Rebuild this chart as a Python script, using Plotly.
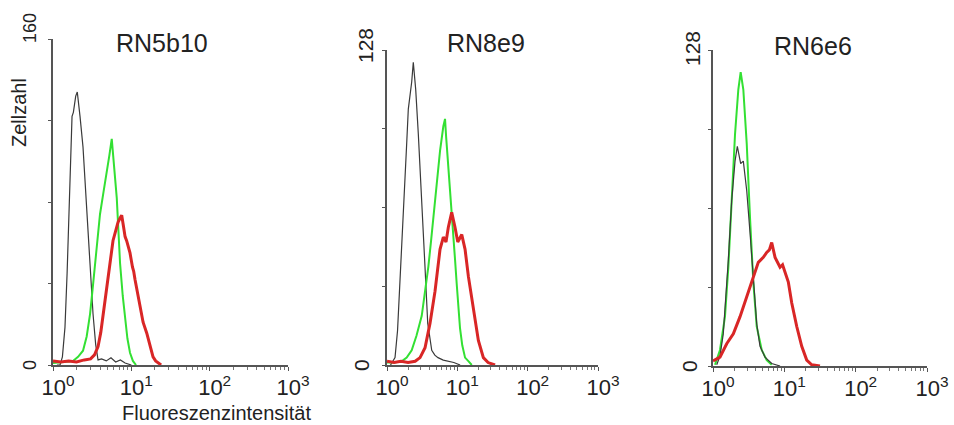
import numpy as np
import plotly.graph_objects as go

# ---------------------------------------------------------------------------
# Flow cytometry histograms: event counts vs. log10 fluorescence intensity
# ---------------------------------------------------------------------------
titles = ["RN5b10", "RN8e9", "RN6e6"]
y_max = [160, 128, 128]
decade_vals = [1, 10, 100, 1000]
decade_text = ["10<sup>0</sup>", "10<sup>1</sup>", "10<sup>2</sup>", "10<sup>3</sup>"]

# RN5b10
p1_black_log = [0.05, 0.09, 0.12, 0.153, 0.18, 0.204, 0.225, 0.243, 0.26, 0.29, 0.31, 0.33, 0.345,
                0.383, 0.415, 0.447, 0.48, 0.511, 0.545, 0.575, 0.62, 0.68, 0.74, 0.8, 0.86, 0.92, 1.0]
p1_black_cnt = [0, 0, 4, 18.6, 45, 74.5, 100, 122, 124, 132, 134, 128, 122,
                107, 87, 66, 45, 25, 10, 2.5, 3, 2, 3.5, 1.5, 2.5, 1, 0]
p1_green_log = [0.0, 0.15, 0.255, 0.32, 0.383, 0.43, 0.473, 0.505, 0.536, 0.57, 0.6, 0.645, 0.686,
                0.72, 0.75, 0.78, 0.814, 0.835, 0.856, 0.89, 0.92, 0.95, 0.983, 1.02, 1.06]
p1_green_cnt = [1, 1.5, 2, 4, 7, 14, 25, 37, 50, 62, 74, 85, 94,
                103, 111, 98, 82, 66, 50, 34, 22, 13, 6, 2, 0]
p1_red_log = [0.0, 0.1, 0.2, 0.3, 0.4, 0.48, 0.53, 0.575, 0.61, 0.639, 0.67, 0.702, 0.735, 0.766,
              0.8, 0.83, 0.855, 0.877, 0.9, 0.92, 0.94, 0.96, 0.983, 1.015, 1.03, 1.047, 1.08,
              1.111, 1.13, 1.15, 1.197, 1.24, 1.277, 1.31, 1.341, 1.38]
p1_red_cnt = [2, 1.5, 2, 1.5, 2.5, 3, 5, 9, 16, 25, 33, 42, 52, 61,
              66, 70, 72, 73.5, 68, 63, 61, 58, 55, 48, 46, 42, 35,
              28, 25, 21, 15.6, 9, 4, 2, 1, 0]

# RN8e9
p2_black_log = [0.05, 0.114, 0.15, 0.185, 0.22, 0.256, 0.28, 0.303, 0.33, 0.351, 0.374, 0.39, 0.408,
                0.445, 0.47, 0.494, 0.54, 0.579, 0.636, 0.68, 0.725, 0.8, 0.87, 0.95, 1.04]
p2_black_cnt = [0, 3, 14, 33, 54, 74, 90, 104, 110, 115, 123, 118, 112,
                94, 81, 67, 40, 17, 6, 4, 3, 2, 1.5, 1, 0]
p2_green_log = [0.0, 0.1, 0.209, 0.28, 0.351, 0.42, 0.494, 0.54, 0.588, 0.625, 0.659, 0.707, 0.754,
                0.801, 0.825, 0.84, 0.853, 0.875, 0.896, 0.92, 0.943, 0.967, 0.991, 1.015, 1.038,
                1.07, 1.11, 1.16, 1.205]
p2_green_cnt = [1, 1, 1.5, 3, 6, 12, 20, 29, 40, 50, 60, 74, 87,
                97, 100, 93, 88, 82, 74, 63, 54, 43, 33, 23, 15,
                8, 3, 1.5, 0]
p2_red_log = [0.0, 0.1, 0.2, 0.3, 0.4, 0.47, 0.541, 0.612, 0.683, 0.754, 0.801, 0.839, 0.872, 0.92,
              0.967, 1.006, 1.063, 1.11, 1.157, 1.19, 1.228, 1.26, 1.299, 1.37, 1.437, 1.536]
p2_red_cnt = [1.5, 1, 1.5, 1, 1.5, 3, 7, 17, 30, 47, 52, 50, 56, 62,
              56, 50, 53, 47, 36, 30, 22, 17, 10, 3, 1, 0]

# RN6e6
p3_black_log = [0.052, 0.098, 0.144, 0.182, 0.215, 0.262, 0.309, 0.341, 0.388, 0.425, 0.473, 0.519,
                0.565, 0.613, 0.659, 0.729, 0.823, 0.94]
p3_black_cnt = [0.5, 4, 13, 27, 43, 67, 83, 89, 82, 83, 71, 54,
                34, 17, 8, 3.6, 1, 0]
p3_green_log = [0.028, 0.098, 0.168, 0.215, 0.262, 0.309, 0.355, 0.388, 0.425, 0.473, 0.519, 0.565,
                0.613, 0.683, 0.753, 0.823]
p3_green_cnt = [0.5, 6.5, 20, 40, 67, 94, 112, 119, 112, 90, 60, 34,
                16, 6.5, 2.4, 0.5]
p3_red_log = [0.0, 0.098, 0.192, 0.285, 0.379, 0.473, 0.543, 0.589, 0.635, 0.705, 0.753, 0.79, 0.823,
              0.87, 0.94, 0.975, 1.01, 1.056, 1.104, 1.174, 1.244, 1.314, 1.384, 1.5]
p3_red_cnt = [2, 3.6, 9, 13, 20, 28, 34, 38, 42, 44, 46, 47, 50,
              44, 40, 41, 38, 34, 25.5, 16, 8, 2.4, 0.5, 0]

BLACK, GREEN, RED = "#3a3a3a", "#33e033", "#d92626"
panels = [
    [(p1_black_log, p1_black_cnt, BLACK, 1.2),
     (p1_green_log, p1_green_cnt, GREEN, 2.0),
     (p1_red_log, p1_red_cnt, RED, 3.0)],
    [(p2_black_log, p2_black_cnt, BLACK, 1.2),
     (p2_green_log, p2_green_cnt, GREEN, 2.0),
     (p2_red_log, p2_red_cnt, RED, 3.0)],
    [(p3_green_log, p3_green_cnt, GREEN, 2.0),
     (p3_black_log, p3_black_cnt, BLACK, 1.2),
     (p3_red_log, p3_red_cnt, RED, 3.0)],
]

# ---------------------------------------------------------------------------
# Layout geometry (pixels in a 954 x 425 canvas)
# ---------------------------------------------------------------------------
W, H = 954, 425
x_px = [(53, 288), (387, 598), (713, 927)]
y_px = [(39, 365), (50, 365), (50, 366)]
title_px = [(162, 43), (486, 43), (813, 46)]
# y tick label placement: (x centre of "0", x centre of top label, top label lift, font size)
ylab_geom = [(30, 30, 11, 18), (361, 365, 4, 21), (689, 692, 1, 21)]
FONT = "Liberation Sans, Arial, sans-serif"
TXT = "#222222"
AX = "#555555"

minor_vals = [m * 10 ** d for d in range(3) for m in range(2, 10)]

fig = go.Figure()
for i, traces in enumerate(panels):
    sfx = "" if i == 0 else str(i + 1)
    for log_x, cnt, color, width in traces:
        fig.add_trace(go.Scatter(
            x=10 ** np.array(log_x), y=cnt, mode="lines",
            line=dict(color=color, width=width),
            xaxis="x" + sfx, yaxis="y" + sfx,
            showlegend=False, hoverinfo="skip",
        ))

    x0, x1 = x_px[i]
    yt, yb = y_px[i]
    fig.layout["xaxis" + sfx] = dict(
        domain=[x0 / W, x1 / W], anchor="y" + sfx, automargin=False,
        type="log", range=[0, 3],
        showline=True, linecolor=AX, linewidth=1.5, layer="below traces",
        ticks="outside", ticklen=4, tickwidth=1, tickcolor=AX,
        tickmode="array", tickvals=decade_vals, ticktext=decade_text,
        ticklabelshift=5, ticklabelstandoff=-2,
        tickfont=dict(family=FONT, size=22, color=TXT),
        minor=dict(tickmode="array", tickvals=minor_vals, ticks="outside",
                   ticklen=3, tickwidth=1, tickcolor="#777777", showgrid=False),
        showgrid=False, zeroline=False, fixedrange=True,
    )
    top = y_max[i]
    fig.layout["yaxis" + sfx] = dict(
        domain=[1 - yb / H, 1 - yt / H], anchor="x" + sfx, automargin=False,
        range=[0, top],
        showline=True, linecolor=AX, linewidth=1.5, layer="below traces",
        ticks="outside", ticklen=3, tickwidth=1, tickcolor=AX,
        tickmode="array", tickvals=[top * k / 4 for k in range(5)],
        showticklabels=False,
        showgrid=False, zeroline=False, fixedrange=True,
    )

    # rotated count labels at the bottom and top of the y axis
    zx, tx_lab, lift, fsz = ylab_geom[i]
    for val, xc, shift in ((0, zx, 0), (top, tx_lab, lift)):
        fig.add_annotation(
            text=str(val), x=xc / W, y=val, xref="paper", yref="y" + sfx,
            yshift=shift, xanchor="center", yanchor="middle", showarrow=False,
            textangle=-90, font=dict(family=FONT, size=fsz, color=TXT),
        )

    tx, ty = title_px[i]
    fig.add_annotation(
        text=titles[i], x=tx / W, y=1 - ty / H, xref="paper", yref="paper",
        xanchor="center", yanchor="middle", showarrow=False,
        font=dict(family=FONT, size=25, color=TXT),
    )

fig.add_annotation(
    text="Zellzahl", x=19 / W, y=1 - 113 / H, xref="paper", yref="paper",
    xanchor="center", yanchor="middle", showarrow=False, textangle=-90,
    font=dict(family=FONT, size=20, color=TXT),
)
fig.add_annotation(
    text="Fluoreszenzintensität", x=216 / W, y=1 - 413 / H, xref="paper", yref="paper",
    xanchor="center", yanchor="middle", showarrow=False,
    font=dict(family=FONT, size=20, color=TXT),
)

fig.update_layout(
    width=W, height=H,
    margin=dict(l=0, r=0, t=0, b=0, pad=0, autoexpand=False),
    paper_bgcolor="white", plot_bgcolor="white",
)

fig.write_html("out.html")
